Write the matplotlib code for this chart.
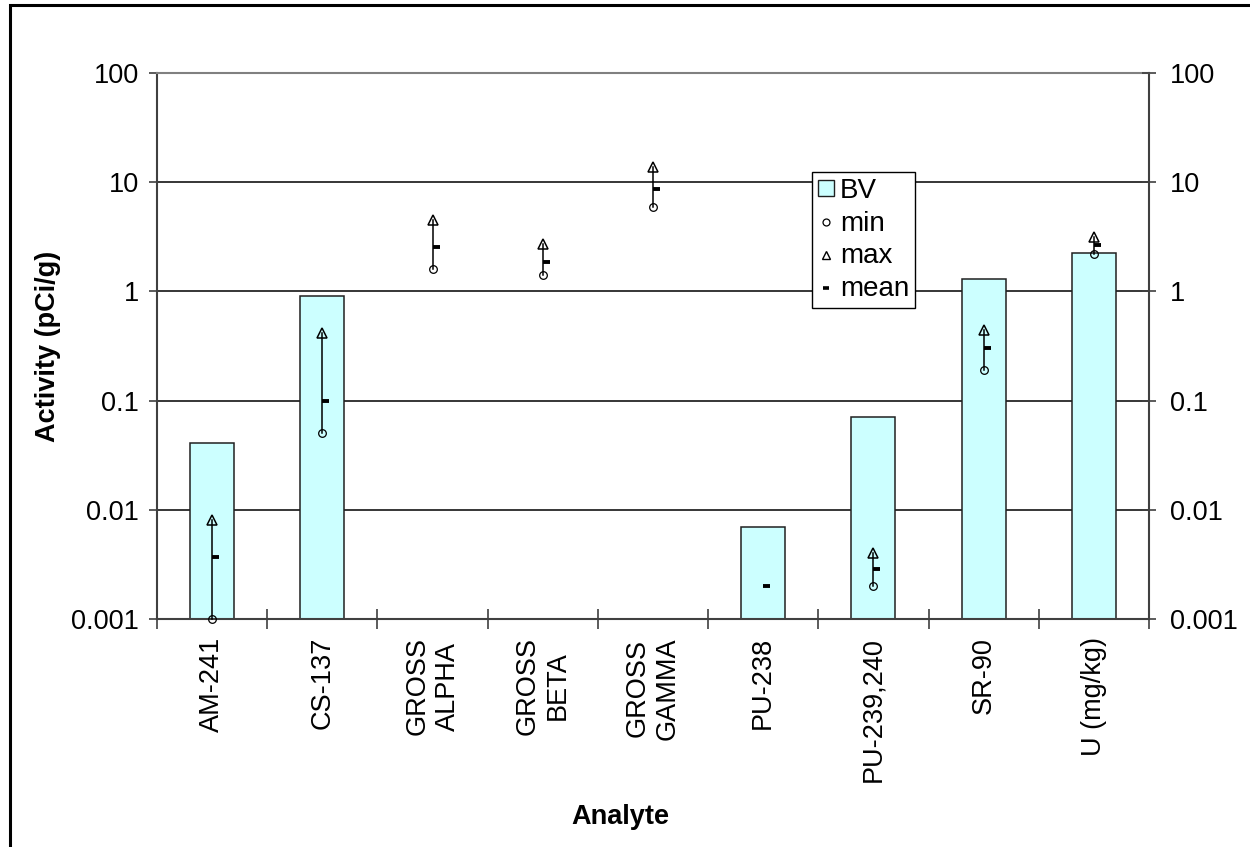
import numpy as np
import matplotlib.pyplot as plt
from matplotlib.lines import Line2D
from matplotlib.patches import Patch, Rectangle
from matplotlib.ticker import FixedLocator, NullLocator

plt.rcParams['font.family'] = ['Liberation Sans', 'DejaVu Sans']

# --- Data ---
analytes = ['AM-241', 'CS-137', 'GROSS\nALPHA', 'GROSS\nBETA', 'GROSS\nGAMMA',
            'PU-238', 'PU-239,240', 'SR-90', 'U (mg/kg)']
bv = [0.04, 0.91, np.nan, np.nan, np.nan, 0.006, 0.07, 1.3, 2.25]
mins = [0.001, 0.05, 1.6, 1.4, 5.9, np.nan, 0.002, 0.19, 2.2]
maxs = [0.008, 0.42, 4.5, 2.7, 13.8, np.nan, 0.004, 0.44, 3.15]
means = [0.0037, 0.1, 2.55, 1.86, 8.7, 0.002, 0.0029, 0.30, 2.65]
yticks = [0.001, 0.01, 0.1, 1, 10, 100]
ytick_labels = ['0.001', '0.01', '0.1', '1', '10', '100']

fs = 19.5
x = np.arange(len(analytes))

fig = plt.figure(figsize=(12.5, 8.47), dpi=100)
ax = fig.add_axes([157 / 1250, 1 - 619 / 847, 992 / 1250, 546 / 847])
ax.set_yscale('log')
ax.set_ylim(0.001, 100)
ax.set_xlim(-0.5, len(analytes) - 0.5)

# bars (start from the bottom of the axis)
ax.bar(x, bv, width=0.4, bottom=0.001,
       color='#CCFFFF', edgecolor='#202020', linewidth=1.1, zorder=2)

# high-low lines and markers
for xi, lo, hi in zip(x, mins, maxs):
    if not (np.isnan(lo) or np.isnan(hi)):
        ax.plot([xi, xi], [lo, hi], color='black', lw=1.1, zorder=3, clip_on=False)
ax.plot(x, mins, ls='none', marker='o', ms=5.5, mfc='none', mec='black', mew=0.9,
        zorder=4, clip_on=False)
ax.plot(x, maxs, ls='none', marker='^', ms=7.5, mfc='none', mec='black', mew=1.1,
        zorder=4, clip_on=False)
ax.plot(x, means, ls='none', marker=1, ms=5, mec='black', mew=2.8, zorder=4,
        clip_on=False)

# grid / spines
ax.yaxis.set_major_locator(FixedLocator(yticks))
ax.yaxis.set_minor_locator(NullLocator())
ax.set_yticklabels(ytick_labels)
ax.grid(axis='y', color='black', lw=1.1, zorder=1)
ax.set_axisbelow(True)
for s in ['left', 'right', 'bottom']:
    ax.spines[s].set_color('#404040')
    ax.spines[s].set_linewidth(1.5)
ax.spines['top'].set_color('#808080')
ax.spines['top'].set_linewidth(1.5)

ax.set_xticks(x)
ax.set_xticklabels(analytes, rotation=90, fontsize=fs, va='top', ha='center',
                   multialignment='center')
ax.xaxis.set_minor_locator(FixedLocator(np.arange(-0.5, len(analytes), 1)))
ax.tick_params(axis='x', which='major', length=0, pad=13)
ax.tick_params(axis='x', which='minor', direction='inout', length=14, width=1.2,
               color='#404040')
ax.tick_params(axis='y', which='major', direction='out', length=6, width=1.2,
               labelsize=fs, pad=7, color='#404040')

ax2 = ax.twinx()
ax2.set_yscale('log')
ax2.set_ylim(0.001, 100)
ax2.yaxis.set_major_locator(FixedLocator(yticks))
ax2.yaxis.set_minor_locator(NullLocator())
ax2.set_yticklabels(ytick_labels)
ax2.tick_params(axis='y', which='major', direction='inout', length=10, width=1.2,
                labelsize=fs, pad=10, color='#404040')
for s in ax2.spines.values():
    s.set_visible(False)

ax.set_xlabel('Analyte', fontsize=fs, fontweight='bold')
ax.xaxis.set_label_coords(0.467, -0.338)
ax.set_ylabel('Activity (pCi/g)', fontsize=fs, fontweight='bold')
ax.yaxis.set_label_coords(-0.097, 0.5)

handles = [Patch(facecolor='#CCFFFF', edgecolor='#202020', lw=1),
           Line2D([], [], ls='none', marker='o', ms=5, mfc='none', mec='black', mew=0.9),
           Line2D([], [], ls='none', marker='^', ms=6, mfc='none', mec='black', mew=1.0),
           Line2D([], [], ls='none', marker='_', ms=4.5, mec='black', mew=2.6)]
leg = ax.legend(handles, ['BV', 'min', 'max', 'mean'], loc='upper left',
                bbox_to_anchor=((812 - 157) / 992, (619 - 172) / 546),
                fontsize=20, frameon=True, fancybox=False, framealpha=1,
                edgecolor='black', handlelength=0.6, handleheight=0.5,
                handletextpad=0.2, borderpad=0.2, labelspacing=0.25,
                borderaxespad=0)
leg.get_frame().set_linewidth(1.0)
leg.set_zorder(10)

# outer chart border
fig.patches.append(Rectangle((10 / 1250, -0.1), 2, 1.1 - 5 / 847, fill=False,
                             edgecolor='black', lw=2.2, transform=fig.transFigure))

fig.savefig('out.png', dpi=100)
